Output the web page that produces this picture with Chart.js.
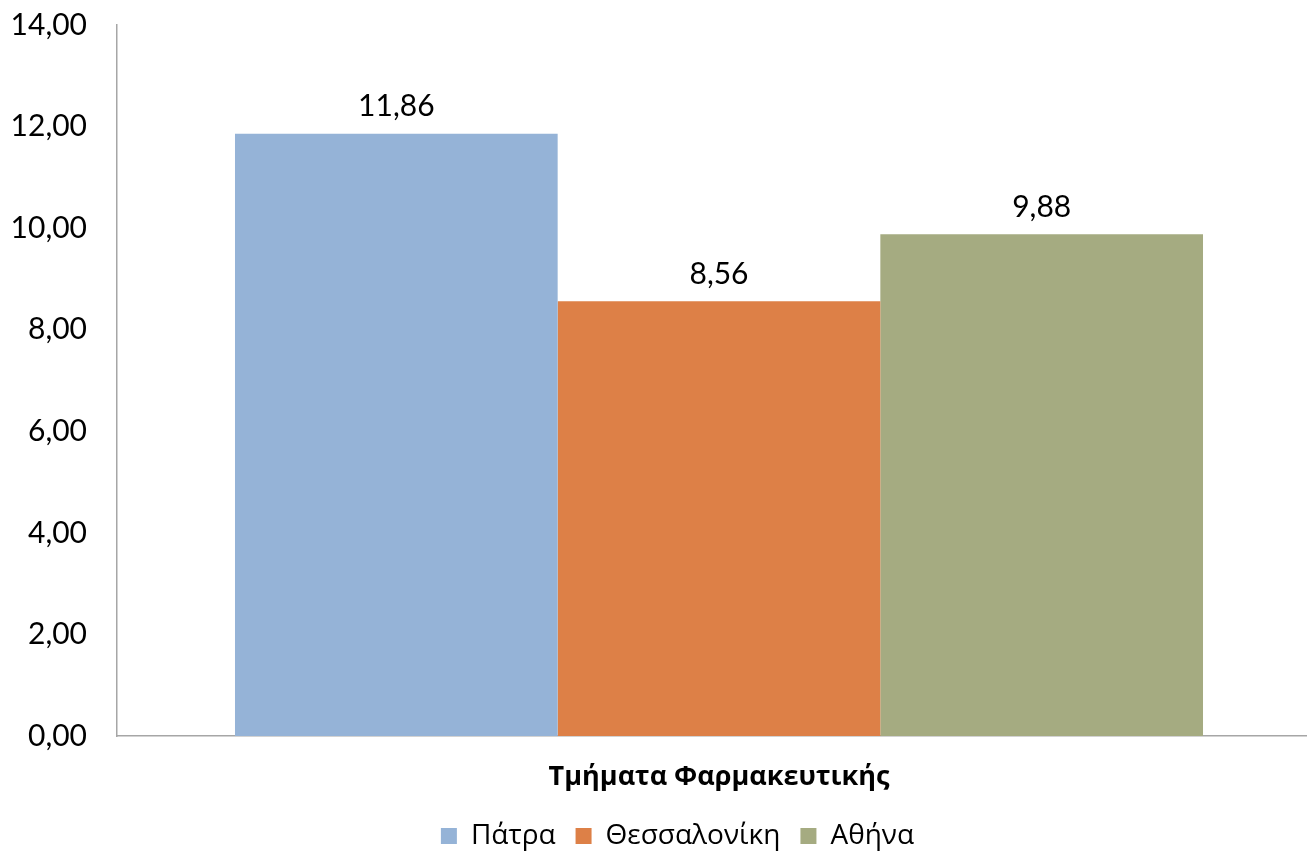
<!DOCTYPE html>
<html>
<head>
<meta charset="utf-8">
<script src="https://cdn.jsdelivr.net/npm/chart.js@4"></script>
<style>
  html, body { margin: 0; padding: 0; background: #fff; overflow: hidden; }
  #wrap { width: 1307px; height: 852px; overflow: hidden; }
</style>
</head>
<body>
<div id="wrap"><canvas id="chart" width="1321" height="852"></canvas></div>
<script>
// data
const categories = ["Τμήματα Φαρμακευτικής"];
const seriesNames = ["Πάτρα", "Θεσσαλονίκη", "Αθήνα"];
const seriesValues = [[11.86], [8.56], [9.88]];
const seriesColors = ["#95B3D7", "#DD8047", "#A5AB81"];
const yTicks = [0, 2, 4, 6, 8, 10, 12, 14];

const fmt = v => v.toFixed(2).replace(".", ",");

// value labels above the bars
const valueLabels = {
    id: "valueLabels",
    afterDatasetsDraw(chart) {
        const ctx = chart.ctx;
        ctx.save();
        ctx.font = "30px Lato, 'DejaVu Sans', sans-serif";
        ctx.fillStyle = "#000";
        ctx.textAlign = "center";
        ctx.textBaseline = "middle";
        chart.data.datasets.forEach((ds, i) => {
            chart.getDatasetMeta(i).data.forEach((bar, j) => {
                ctx.fillText(fmt(ds.data[j]), bar.x, bar.y - 27);
            });
        });
        ctx.restore();
    }
};

// nudge the legend a bit right and down, like the original
const legendShift = {
    id: "legendShift",
    afterLayout(chart) {
        const lg = chart.legend;
        lg.left += 17; lg.right += 17;
        lg.top += 8; lg.bottom += 8;
    }
};

new Chart(document.getElementById("chart"), {
    type: "bar",
    data: {
        labels: categories,
        datasets: seriesNames.map((name, i) => ({
            label: name,
            data: seriesValues[i],
            backgroundColor: seriesColors[i],
            borderWidth: 0,
            categoryPercentage: 0.804,
            barPercentage: 1.0
        }))
    },
    options: {
        responsive: false,
        animation: false,
        layout: { padding: { top: 0, right: 0, left: 0, bottom: 0 } },
        plugins: {
            legend: {
                position: "bottom",
                labels: {
                    boxWidth: 16,
                    boxHeight: 16,
                    padding: 20,
                    color: "#000",
                    font: { size: 28, family: "'Open Sans', 'DejaVu Sans', sans-serif" }
                }
            },
            tooltip: { enabled: false }
        },
        scales: {
            x: {
                afterFit: scale => { scale.height = 58; },
                grid: { display: false, drawTicks: false },
                border: { color: "#A6A6A6", width: 1.5 },
                ticks: {
                    padding: 25,
                    color: "#000",
                    font: { size: 27, weight: "bold", family: "'Open Sans', 'DejaVu Sans', sans-serif" }
                }
            },
            y: {
                min: 0,
                max: 14,
                afterBuildTicks: scale => { scale.ticks = yTicks.map(v => ({ value: v })); },
                afterFit: scale => {
                    scale.width = 117;
                    scale.paddingTop = 25;
                    scale.paddingBottom = 0;
                },
                grid: { display: false, drawTicks: false },
                border: { color: "#A6A6A6", width: 1.5 },
                ticks: {
                    padding: 30,
                    color: "#000",
                    font: { size: 30, family: "Lato, 'DejaVu Sans', sans-serif" },
                    callback: v => fmt(v)
                }
            }
        }
    },
    plugins: [valueLabels, legendShift]
});
</script>
</body>
</html>
